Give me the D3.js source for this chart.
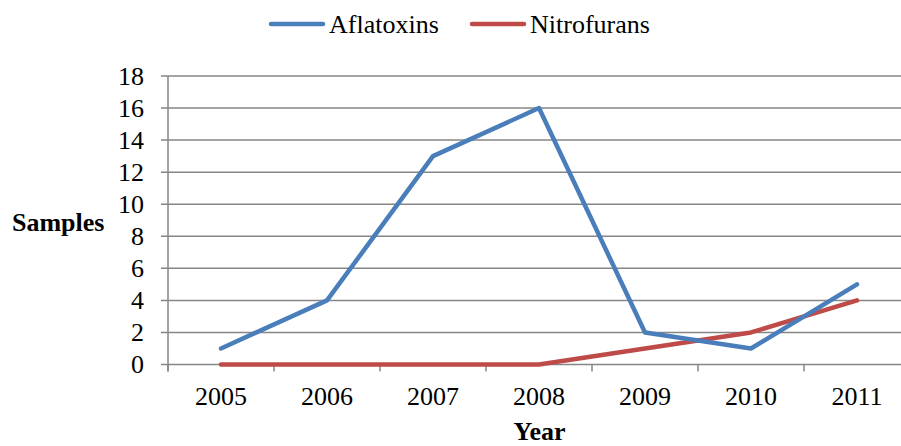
<!DOCTYPE html>
<html>
<head>
<meta charset="utf-8">
<script src="https://cdn.jsdelivr.net/npm/d3@7"></script>
<style>
  body { margin: 0; background: #fff; }
  text { font-family: "Liberation Serif", "Times New Roman", serif; fill: #000; }
</style>
</head>
<body>
<svg id="chart" width="901" height="446"></svg>
<script>
var years = [ "2005", "2006", "2007", "2008", "2009", "2010", "2011" ];
var aflatoxins = [ 1, 4, 13, 16, 2, 1, 5 ];
var nitrofurans = [ 0, 0, 0, 0, 1, 2, 4 ];
var yTicks = [ 0, 2, 4, 6, 8, 10, 12, 14, 16, 18 ];

var series = [
	{ name: "Aflatoxins", values: aflatoxins, color: "#4a7ebb" },
	{ name: "Nitrofurans", values: nitrofurans, color: "#be4b48" }
];

var fontSize = "26px";

var svg = d3.select( "#chart" );

var margin = { left: 168, right: 910, top: 76, bottom: 364.5 };

var x = d3.scaleBand()
	.domain( years )
	.range( [ margin.left, margin.right ] );

var y = d3.scaleLinear()
	.domain( [ 0, 18 ] )
	.range( [ margin.bottom, margin.top ] );

// gridlines
svg.append( "g" )
	.selectAll( "line" )
	.data( yTicks )
	.enter()
	.append( "line" )
	.attr( "x1", margin.left - 7 )
	.attr( "x2", margin.right )
	.attr( "y1", function( d ) { return y( d ); } )
	.attr( "y2", function( d ) { return y( d ); } )
	.attr( "stroke", "#868686" )
	.attr( "stroke-width", 1.5 );

// y axis line
svg.append( "line" )
	.attr( "x1", margin.left ).attr( "x2", margin.left )
	.attr( "y1", margin.top ).attr( "y2", margin.bottom + 7 )
	.attr( "stroke", "#868686" )
	.attr( "stroke-width", 1.5 );

// x axis ticks between categories
var boundaries = years.map( function( d ) { return x( d ); } ).concat( [ margin.right ] );
svg.append( "g" )
	.selectAll( "line" )
	.data( boundaries )
	.enter()
	.append( "line" )
	.attr( "x1", function( d ) { return d; } )
	.attr( "x2", function( d ) { return d; } )
	.attr( "y1", margin.bottom )
	.attr( "y2", margin.bottom + 7 )
	.attr( "stroke", "#868686" )
	.attr( "stroke-width", 1.5 );

// y tick labels
svg.append( "g" )
	.selectAll( "text" )
	.data( yTicks )
	.enter()
	.append( "text" )
	.attr( "x", 144 )
	.attr( "y", function( d ) { return y( d ); } )
	.attr( "dy", "0.33em" )
	.attr( "text-anchor", "end" )
	.style( "font-size", fontSize )
	.text( function( d ) { return d; } );

// x tick labels
svg.append( "g" )
	.selectAll( "text" )
	.data( years )
	.enter()
	.append( "text" )
	.attr( "x", function( d ) { return x( d ) + x.bandwidth() / 2; } )
	.attr( "y", 405 )
	.attr( "text-anchor", "middle" )
	.style( "font-size", fontSize )
	.text( function( d ) { return d; } );

// axis titles
svg.append( "text" )
	.attr( "x", 12 )
	.attr( "y", 231 )
	.style( "font-size", fontSize )
	.style( "font-weight", "bold" )
	.text( "Samples" );

svg.append( "text" )
	.attr( "x", 539.5 )
	.attr( "y", 440 )
	.attr( "text-anchor", "middle" )
	.style( "font-size", fontSize )
	.style( "font-weight", "bold" )
	.text( "Year" );

// lines
var line = d3.line()
	.x( function( d, i ) { return x( years[ i ] ) + x.bandwidth() / 2; } )
	.y( function( d ) { return y( d ); } );

svg.append( "g" )
	.selectAll( "path" )
	.data( series.slice().reverse() )
	.enter()
	.append( "path" )
	.attr( "d", function( s ) { return line( s.values ); } )
	.attr( "fill", "none" )
	.attr( "stroke", function( s ) { return s.color; } )
	.attr( "stroke-width", 4.5 )
	.attr( "stroke-linejoin", "round" )
	.attr( "stroke-linecap", "round" );

// legend
var legendX = [ 269, 470 ];
var legend = svg.append( "g" )
	.selectAll( "g" )
	.data( series )
	.enter()
	.append( "g" )
	.attr( "transform", function( d, i ) { return "translate(" + legendX[ i ] + ",24)"; } );

legend.append( "line" )
	.attr( "x1", 2 ).attr( "x2", 54 )
	.attr( "y1", 0 ).attr( "y2", 0 )
	.attr( "stroke", function( d ) { return d.color; } )
	.attr( "stroke-width", 4.5 )
	.attr( "stroke-linecap", "round" );

legend.append( "text" )
	.attr( "x", 60 )
	.attr( "y", 0 )
	.attr( "dy", "0.33em" )
	.style( "font-size", fontSize )
	.text( function( d ) { return d.name; } );
</script>
</body>
</html>
